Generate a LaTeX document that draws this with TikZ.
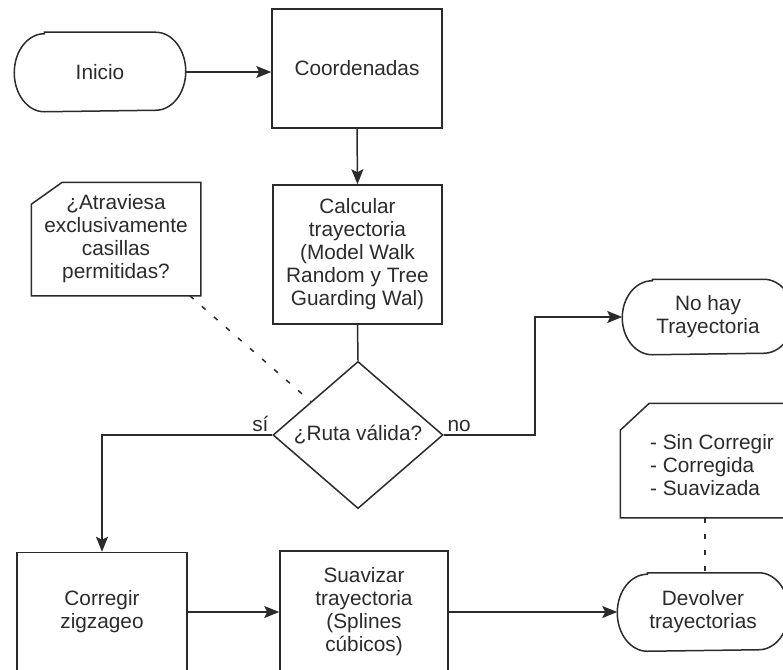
\documentclass[tikz,border=0pt]{standalone}
\usepackage{fontspec}
\setmainfont{Liberation Sans}
\usetikzlibrary{shapes.geometric,arrows.meta,calc}
\definecolor{ink}{HTML}{2B2B2B}
\begin{document}
\begin{tikzpicture}[x=1pt,y=-1pt, line width=1.5pt, draw=ink, text=ink,
  font=\fontsize{20.8}{23}\selectfont,
  box/.style={draw, rectangle, align=center, inner sep=0pt},
  term/.style={rectangle, align=center, minimum width=170pt, inner sep=0pt},
  note/.style={rectangle, inner sep=0pt},
  arr/.style={-{Stealth[length=15pt,width=12pt,inset=3pt]}},
  dots/.style={dash pattern=on 5pt off 11pt}]
\useasboundingbox (0,0) rectangle (783,669);
\clip (0,0) rectangle (783,669);

% nodes
\node[term, minimum height=78pt] (ini) at (100,72) {Inicio};
\node[box, minimum width=170pt, minimum height=119pt] (coord) at (357,68.5) {Coordenadas};
\node[box, minimum width=169pt, minimum height=139pt] (calc) at (357.5,254.5)
  {Calcular\\trayectoria\\(Model Walk\\Random y Tree\\Guarding Wal)};
\node[diamond, draw, minimum width=170pt, minimum height=146pt, inner sep=0pt] (dia) at (358,435) {¿Ruta válida?};
\node[term, minimum height=74pt] (nohay) at (708,317) {No hay\\Trayectoria};
\node[box, minimum width=170pt, minimum height=119pt] (corr) at (102,612) {Corregir\\zigzageo};
\node[box, minimum width=168pt, minimum height=122pt] (suav) at (364,612) {Suavizar\\trayectoria\\(Splines\\cúbicos)};
\node[term, minimum height=77pt] (dev) at (703,612) {Devolver\\trayectorias};
\node[note, minimum width=168pt, minimum height=112pt, align=center] (c1) at (116,239)
  {¿Atraviesa\\exclusivamente\\casillas\\permitidas?};
\node[note, minimum width=168pt, minimum height=113pt,
  label={[align=left, xshift=7pt, yshift=-5pt]center:{- Sin Corregir\\- Corregida\\- Suavizada}}] (c2) at (705,460.5) {};

% terminator outlines
\foreach \n/\r in {ini/39, nohay/37, dev/38.5}{
  \draw ([xshift=30pt]\n.north west) -- ([xshift=-30pt]\n.north east)
    arc[start angle=90, end angle=-90, x radius=30pt, y radius=\r pt]
    -- ([xshift=30pt]\n.south west)
    arc[start angle=270, end angle=90, x radius=30pt, y radius=\r pt] -- cycle;
}
% note outlines
\draw ([yshift=-22pt]c1.north west) -- ([xshift=31pt]c1.north west) -- (c1.north east)
  -- (c1.south east) -- (c1.south west) -- cycle;
\draw ([yshift=-27pt]c2.north west) -- ([xshift=29pt]c2.north west) -- (c2.north east)
  -- (c2.south east) -- (c2.south west) -- cycle;

% connectors
\draw[arr] (ini.east) -- (ini.east -| coord.west);
\draw[arr] (coord.south) -- (calc.north);
\draw (calc.south) -- (dia.north);
\draw[arr] (dia.west) -| node[pos=0, anchor=south east, inner sep=3pt] {sí} (corr.north);
\draw[arr] (dia.east) -- node[pos=0, anchor=south west, inner sep=3pt] {no} ++(91,0) |- (nohay.west);
\draw[arr] (corr.east) -- (suav.west);
\draw[arr] (suav.east) -- (dev.west);
\draw[dots] ([xshift=-11pt]c1.south east) -- ($(dia.north)!0.55!(dia.west)$);
\draw[dots] (c2.south) -- (c2.south |- dev.north);
\end{tikzpicture}
\end{document}
